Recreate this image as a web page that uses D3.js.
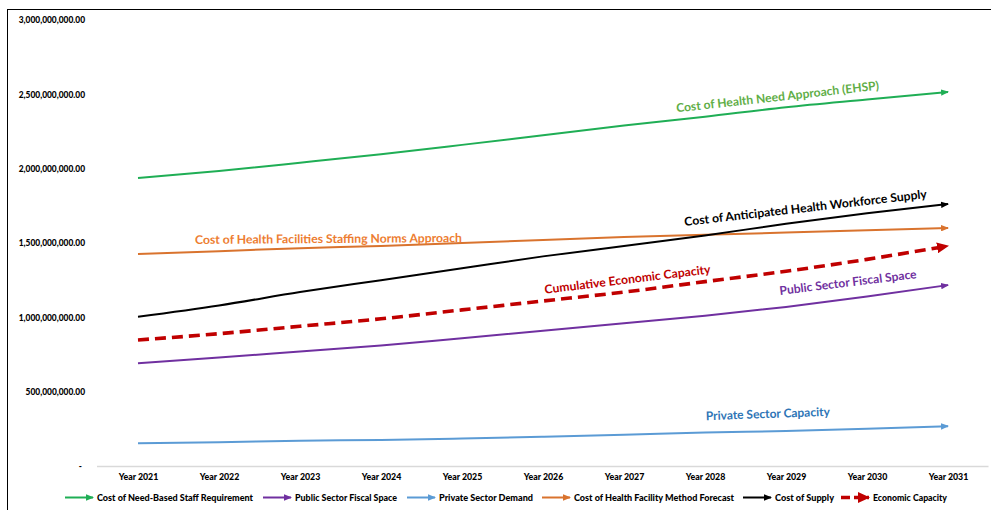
<!DOCTYPE html>
<html>
<head>
<meta charset="utf-8">
<script src="https://cdn.jsdelivr.net/npm/d3@7"></script>
<style>
  html, body { margin: 0; padding: 0; background: #fff; }
  svg { display: block; }
  text { font-family: Lato, "Open Sans", sans-serif; font-weight: 700; }
</style>
</head>
<body>
<svg id="chart" width="991" height="510"></svg>
<script>
// Workforce cost projections, 2021–2031
const years = ["Year 2021", "Year 2022", "Year 2023", "Year 2024", "Year 2025", "Year 2026",
               "Year 2027", "Year 2028", "Year 2029", "Year 2030", "Year 2031"];

const needBased      = [1.937e9, 1.985e9, 2.04e9, 2.097e9, 2.16e9, 2.225e9, 2.29e9, 2.35e9, 2.413e9, 2.465e9, 2.516e9];
const publicFiscal   = [0.691e9, 0.73e9, 0.77e9, 0.81e9, 0.86e9, 0.91e9, 0.96e9, 1.01e9, 1.07e9, 1.14e9, 1.217e9];
const privateDemand  = [0.153e9, 0.16e9, 0.17e9, 0.175e9, 0.185e9, 0.197e9, 0.21e9, 0.225e9, 0.235e9, 0.25e9, 0.268e9];
const facilityNorms  = [1.426e9, 1.445e9, 1.465e9, 1.48e9, 1.50e9, 1.52e9, 1.54e9, 1.555e9, 1.57e9, 1.585e9, 1.601e9];
const supplyCost     = [1.004e9, 1.08e9, 1.17e9, 1.25e9, 1.33e9, 1.41e9, 1.48e9, 1.55e9, 1.63e9, 1.70e9, 1.762e9];
const economicCap    = [0.848e9, 0.89e9, 0.94e9, 0.99e9, 1.05e9, 1.11e9, 1.17e9, 1.24e9, 1.31e9, 1.39e9, 1.48e9];

const yTickValues = [0, 5e8, 1e9, 1.5e9, 2e9, 2.5e9, 3e9];

const legendNames = ["Cost of Need-Based Staff Requirement", "Public Sector Fiscal Space",
                     "Private Sector Demand", "Cost of Health Facility Method Forecast",
                     "Cost of Supply", "Economic Capacity"];

const seriesValues = [needBased, publicFiscal, privateDemand, facilityNorms, supplyCost, economicCap];
const seriesColors = ["#1fae55", "#7030a0", "#5b9bd5", "#d9732e", "#000000", "#c00000"];

const svg = d3.select("#chart");

// outer frame
svg.append("rect").attr("x", 7.5).attr("y", 9.5).attr("width", 1000).attr("height", 520)
  .attr("fill", "none").attr("stroke", "#000").attr("stroke-width", 1);

const x = d3.scalePoint().domain(years).range([138, 948]);
const y = d3.scaleLinear().domain([0, 3e9]).range([466, 20]);

// arrowhead markers
const defs = svg.append("defs");
seriesColors.forEach((c, i) => {
  const big = i === 5;
  const w = big ? 12 : 8, h = big ? 11 : 6.5;
  defs.append("marker")
    .attr("id", "arrow" + i)
    .attr("viewBox", `0 0 ${w} ${h}`)
    .attr("refX", w - 1).attr("refY", h / 2)
    .attr("markerWidth", w).attr("markerHeight", h)
    .attr("markerUnits", "userSpaceOnUse")
    .attr("orient", "auto")
    .append("path")
    .attr("d", `M0,0L${w},${h / 2}L0,${h}Z`)
    .attr("fill", c);
});

// x axis baseline
svg.append("line")
  .attr("x1", 97).attr("x2", 988.5).attr("y1", y(0) + 0.5).attr("y2", y(0) + 0.5)
  .attr("stroke", "#d9d9d9").attr("stroke-width", 1.5);

// y axis labels
const fmt = d3.format(",.2f");
const yAxis = d3.axisLeft(y).tickValues(yTickValues).tickSize(0).tickPadding(0)
  .tickFormat(d => d === 0 ? "-" : fmt(d));
const yg = svg.append("g").attr("transform", "translate(85,0)").call(yAxis);
yg.select(".domain").remove();
yg.selectAll("text").attr("font-size", 8.4).attr("fill", "#000")
  .style("font-family", "Lato, sans-serif").style("font-weight", 900);
yg.selectAll(".tick").filter(d => d === 0).select("text").attr("dx", -3);

// x axis labels
const xAxis = d3.axisBottom(x).tickSize(0).tickPadding(0);
const xg = svg.append("g").attr("transform", `translate(0,${y(0) + 8})`).call(xAxis);
xg.select(".domain").remove();
xg.selectAll("text").attr("font-size", 8.8).attr("fill", "#000")
  .style("font-family", "Lato, sans-serif").style("font-weight", 900);

// series lines
const line = d3.line().x((d, i) => x(years[i])).y(d => y(d)).curve(d3.curveMonotoneX);
const drawOrder = [2, 1, 5, 3, 4, 0];
drawOrder.forEach(i => {
  const p = svg.append("path")
    .datum(seriesValues[i])
    .attr("d", line)
    .attr("fill", "none")
    .attr("stroke", seriesColors[i])
    .attr("stroke-width", i === 5 ? 3.6 : 2)
    .attr("marker-end", `url(#arrow${i})`);
  if (i === 5) p.attr("stroke-dasharray", "11,6");
});

// in-plot annotations
const notes = [
  { text: "Cost of Health Need Approach (EHSP)", color: "#5fae47", cx: 778, cy: 101, angle: -6.4, len: 204 },
  { text: "Cost of Health Facilities Staffing Norms Approach", color: "#ed7d31", cx: 328.5, cy: 243, angle: -0.4, len: 267 },
  { text: "Cost of Anticipated Health Workforce Supply", color: "#000000", cx: 806, cy: 212, angle: -6.6, len: 244 },
  { text: "Cumulative Economic Capacity", color: "#c00000", cx: 628, cy: 283.5, angle: -7, len: 167 },
  { text: "Public Sector Fiscal Space", color: "#7030a0", cx: 848.5, cy: 286.5, angle: -7, len: 138 },
  { text: "Private Sector Capacity", color: "#2e75b6", cx: 768, cy: 418, angle: -2, len: 124 }
];
notes.forEach(n => {
  svg.append("text")
    .attr("transform", `translate(${n.cx},${n.cy}) rotate(${n.angle})`)
    .attr("text-anchor", "middle")
    .attr("font-size", 12)
    .attr("fill", n.color)
    .attr("textLength", n.len)
    .attr("lengthAdjust", "spacingAndGlyphs")
    .text(n.text);
});

// legend
const legendX = [65, 263, 407, 542, 743, 841];
const legendTextW = [156, 102, 94, 160, 59, 74];
const ly = 497.5;
legendNames.forEach((name, i) => {
  const g = svg.append("g");
  const x0 = legendX[i];
  const la = g.append("line")
    .attr("x1", x0).attr("x2", x0 + 28).attr("y1", ly).attr("y2", ly)
    .attr("stroke", seriesColors[i])
    .attr("stroke-width", i === 5 ? 3.6 : 2)
    .attr("marker-end", `url(#arrow${i})`);
  if (i === 5) la.attr("stroke-dasharray", "9,4");
  g.append("text")
    .attr("x", x0 + 32).attr("y", ly + 3)
    .attr("font-size", 8.8)
    .attr("fill", "#000")
    .style("font-weight", 900)
    .attr("textLength", legendTextW[i])
    .attr("lengthAdjust", "spacingAndGlyphs")
    .text(name);
});
</script>
</body>
</html>
